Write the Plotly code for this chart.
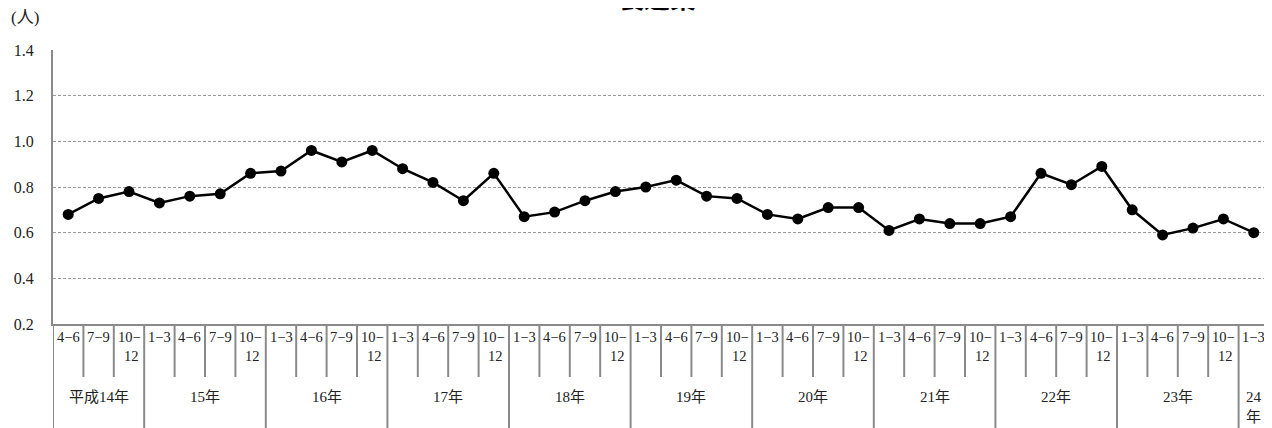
import plotly.graph_objects as go

# ---- data ----
years = ["平成14年", "15年", "16年", "17年", "18年", "19年", "20年", "21年", "22年", "23年", "24<br>年"]
year_quarters = [
    ["4-6", "7-9", "10-12"],
    ["1-3", "4-6", "7-9", "10-12"],
    ["1-3", "4-6", "7-9", "10-12"],
    ["1-3", "4-6", "7-9", "10-12"],
    ["1-3", "4-6", "7-9", "10-12"],
    ["1-3", "4-6", "7-9", "10-12"],
    ["1-3", "4-6", "7-9", "10-12"],
    ["1-3", "4-6", "7-9", "10-12"],
    ["1-3", "4-6", "7-9", "10-12"],
    ["1-3", "4-6", "7-9", "10-12"],
    ["1-3"],
]
values = [
    0.68, 0.75, 0.78,
    0.73, 0.76, 0.77, 0.86,
    0.87, 0.96, 0.91, 0.96,
    0.88, 0.82, 0.74, 0.86,
    0.67, 0.69, 0.74, 0.78,
    0.80, 0.83, 0.76, 0.75,
    0.68, 0.66, 0.71, 0.71,
    0.61, 0.66, 0.64, 0.64,
    0.67, 0.86, 0.81, 0.89,
    0.70, 0.59, 0.62, 0.66,
    0.60,
]
y_ticks = [0.2, 0.4, 0.6, 0.8, 1.0, 1.2, 1.4]
y_ticktext = ["0.2", "0.4", "0.6", "0.8", "1.0", "1.2", "1.4"]

FONT = "Liberation Serif, Noto Sans CJK JP, serif"
AXC = "#8a8a8a"

quarters = [q for grp in year_quarters for q in grp]
xs = list(range(len(quarters)))

fig = go.Figure()
fig.add_trace(go.Scatter(
    x=xs, y=values, mode="lines+markers",
    line=dict(color="black", width=2.5),
    marker=dict(color="black", size=11),
    showlegend=False, hoverinfo="skip",
))

shapes = []
annotations = []

# Dividers & labels below the plot
Y_INNER = -0.1934
Y_BOTTOM = -0.40
year_bounds = set()
pos = -0.5
year_bounds.add(pos)
for grp in year_quarters:
    pos += len(grp)
    year_bounds.add(pos)

for i in range(len(quarters) + 1):
    b = i - 0.5
    y1 = Y_BOTTOM if b in year_bounds else Y_INNER
    shapes.append(dict(type="line", xref="x", yref="paper", x0=b, x1=b, y0=0, y1=y1,
                       line=dict(color=AXC, width=2)))

for i, q in enumerate(quarters):
    txt = q.replace("10-12", "10−<br> 12").replace("-", "−")
    annotations.append(dict(x=i, y=-0.012, xref="x", yref="paper", text=txt,
                            showarrow=False, xanchor="center", yanchor="top",
                            font=dict(family=FONT, size=14.5, color="#222"),
                            align="center"))

start = 0
for name, grp in zip(years, year_quarters):
    center = start + (len(grp) - 1) / 2
    yy = -0.303 if "<br>" in name else -0.266
    annotations.append(dict(x=center, y=yy, xref="x", yref="paper", text=name,
                            showarrow=False, xanchor="center", yanchor="middle",
                            font=dict(family=FONT, size=15, color="#222")))
    start += len(grp)

# Title (partially cut off at top) and unit label
annotations.append(dict(x=(657 - 53) / 1216, y=1.197, xref="paper", yref="paper",
                        text="<b>製造業</b>", showarrow=False, xanchor="center", yanchor="middle",
                        font=dict(family="Noto Sans CJK JP", size=26, color="black")))
annotations.append(dict(x=-0.036, y=1.120, xref="paper", yref="paper",
                        text="(人)", showarrow=False, xanchor="left", yanchor="middle",
                        font=dict(family=FONT, size=17, color="#222")))

# page has an 8px body margin, so the figure is offset by 8px
fig.update_layout(
    width=1264, height=420,
    margin=dict(l=45, r=3, t=42, b=104),
    paper_bgcolor="white", plot_bgcolor="white",
    shapes=shapes, annotations=annotations,
    xaxis=dict(range=[-0.5, len(quarters) - 0.5], showgrid=False, zeroline=False,
               showticklabels=False, showline=True, linecolor=AXC, linewidth=2,
               ticks=""),
    yaxis=dict(range=[0.2, 1.4], tickvals=y_ticks, ticktext=y_ticktext,
               showgrid=True, gridcolor="#9a9a9a", gridwidth=1, griddash="3px,2px",
               zeroline=False, showline=True, linecolor=AXC, linewidth=2,
               ticks="", ticklabelstandoff=14,
               tickfont=dict(family=FONT, size=16, color="#222")),
)

fig.write_html("out.html")
